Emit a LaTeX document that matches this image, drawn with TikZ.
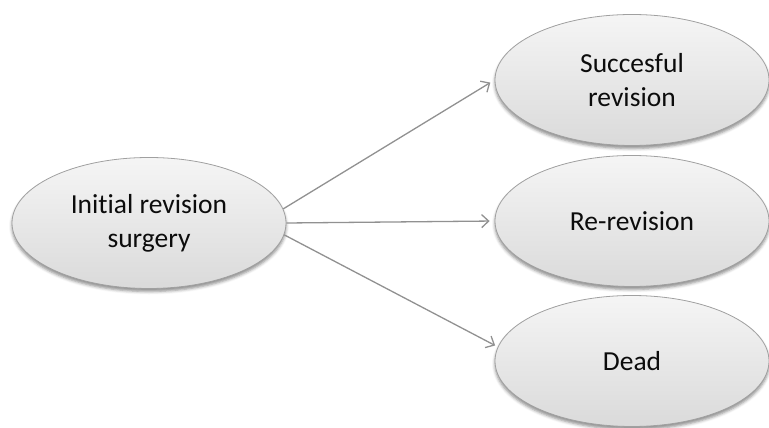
\documentclass[tikz,border=0pt]{standalone}
\usepackage{fontspec}
\setmainfont{Carlito}[Ligatures=NoCommon]
\usetikzlibrary{shapes.geometric,arrows.meta,shadows.blur}
\definecolor{fillTop}{RGB}{245,245,245}
\definecolor{fillBot}{RGB}{218,218,218}
\definecolor{rim}{RGB}{160,160,160}
\definecolor{linkgray}{RGB}{145,145,145}
\definecolor{ink}{RGB}{12,12,12}
\begin{document}
\begin{tikzpicture}[x=1pt,y=-1pt,
  state/.style={ellipse, draw=rim, line width=0.8pt,
    top color=fillTop, bottom color=fillBot,
    minimum width=274pt, minimum height=131pt, inner sep=0pt,
    align=center, font=\fontsize{27.5}{34}\selectfont, text=ink,
    blur shadow={shadow xshift=0pt, shadow yshift=-3pt,
      shadow blur radius=3pt, shadow opacity=45}},
  link/.style={draw=linkgray, line width=1.3pt,
    -{Straight Barb[length=7pt,width=13pt]}}]
\useasboundingbox (0,0) rectangle (769,428);

% outcome states
\node[state] (init)  at (149,223) {Initial revision\\surgery};
\node[state] (succ)  at (632,80)  {Succesful\\revision};
\node[state] (rerev) at (632,221) {Re-revision};
\node[state] (dead)  at (632,361) {Dead};

% transitions
\draw[link, shorten >=5pt] (init.6) -- (succ.west);
\draw[link, shorten >=5pt] (init.east) -- (rerev.west);
\draw[link, shorten >=3pt] (init.-5) -- (dead.174);
\end{tikzpicture}
\end{document}
